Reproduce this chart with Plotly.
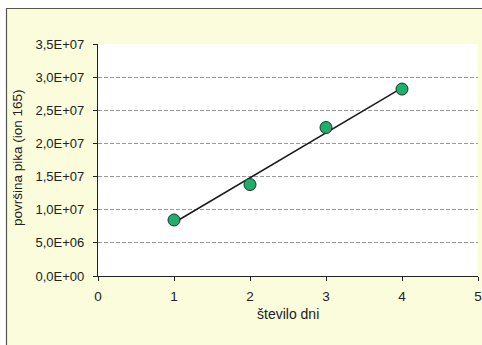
import plotly.graph_objects as go
import numpy as np

days = [1, 2, 3, 4]
area = [8.45e6, 13.8e6, 22.4e6, 28.2e6]
y_tickvals = [0, 5e6, 1e7, 1.5e7, 2e7, 2.5e7, 3e7, 3.5e7]
y_ticktext = ["0,0E+00", "5,0E+06", "1,0E+07", "1,5E+07", "2,0E+07", "2,5E+07", "3,0E+07", "3,5E+07"]
x_tickvals = [0, 1, 2, 3, 4, 5]

W, H = 482, 345
L, R, T, B = 98, 482 - 478, 44, 345 - 276
pw, ph = W - L - R, H - T - B

slope, intercept = np.polyfit(days, area, 1)
fit_x = [days[0], days[-1]]
fit_y = [slope * v + intercept for v in fit_x]

fig = go.Figure()
fig.add_trace(go.Scatter(x=fit_x, y=fit_y, mode="lines",
                         line=dict(color="#1a1a1a", width=1.5), hoverinfo="skip"))
fig.add_trace(go.Scatter(x=days, y=area, mode="markers",
                         marker=dict(size=12, color="#1db06a", line=dict(color="#2a2a2a", width=1))))

def px_x(p):
    return (p - L) / pw

def px_y(p):
    return (H - B - p) / ph

fig.add_shape(type="rect", xref="paper", yref="paper",
              x0=px_x(6.5), x1=px_x(W + 10), y0=px_y(H + 10), y1=px_y(8.5),
              fillcolor="#fafcdc", line=dict(color="#555555", width=1.2), layer="below")
fig.add_shape(type="rect", xref="paper", yref="paper", x0=0, x1=1, y0=0, y1=1,
              fillcolor="white", line=dict(width=0), layer="below")

fig.add_annotation(text="površina pika (ion 165)", xref="paper", yref="paper",
                   x=px_x(17), y=px_y(158), textangle=-90, showarrow=False,
                   font=dict(size=13.5, color="#222222"), xanchor="center", yanchor="middle")
fig.add_annotation(text="število dni", xref="paper", yref="paper",
                   x=px_x(288), y=px_y(314), showarrow=False,
                   font=dict(size=14, color="#222222"), xanchor="center", yanchor="middle")

fig.update_layout(
    width=W, height=H,
    margin=dict(l=L, r=R, t=T, b=B, pad=0, autoexpand=False),
    paper_bgcolor="white", plot_bgcolor="rgba(0,0,0,0)",
    showlegend=False,
    font=dict(family="Liberation Sans, Arial, sans-serif", size=13, color="#222222"),
)
fig.update_xaxes(range=[0, 5], tickvals=x_tickvals, showgrid=False, zeroline=False,
                 showline=True, linecolor="#222222", linewidth=1.3, automargin=False,
                 ticks="outside", ticklen=4, tickcolor="#222222", fixedrange=True,
                 ticklabelstandoff=4, tickfont=dict(size=13.5))
fig.update_yaxes(range=[0, 3.5e7], tickvals=y_tickvals, ticktext=y_ticktext,
                 showgrid=True, gridcolor="#9a9a9a", griddash="4px,2px", gridwidth=1,
                 zeroline=False, showline=True, linecolor="#222222", linewidth=1.3,
                 automargin=False, ticklabelstandoff=6,
                 ticks="outside", ticklen=4, tickcolor="#222222", fixedrange=True)

fig.write_html("out.html", config={"displayModeBar": False},
               post_script="document.body.style.margin='0';document.body.style.overflow='hidden';")
